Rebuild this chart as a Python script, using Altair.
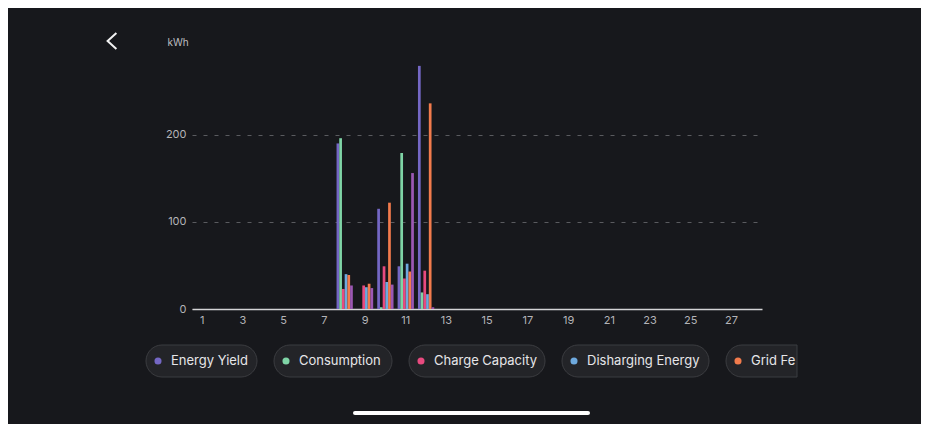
import altair as alt
import pandas as pd

# ---------------- data ----------------
days = list(range(1, 29))
series = ["Energy Yield", "Consumption", "Charge Capacity",
          "Disharging Energy", "Grid Feed-in", "Purchasing Energy"]
colors = ["#7467c4", "#7fd4a6", "#e84a7f", "#6ea9de", "#f27b4c", "#9c58b3"]

active_days = [8, 9, 10, 11, 12]
energy_yield = [190, 0, 115, 49, 279]
consumption = [196, 0, 2, 179, 19]
charge_capacity = [23, 27, 49, 35, 44]
discharging_energy = [40, 25, 31, 52, 17]
grid_feed_in = [39, 29, 122, 43, 236]
purchasing_energy = [27, 24, 28, 156, 2]

y_ticks = [0, 100, 200]
x_ticks = list(range(1, 28, 2))

values_by_series = dict(zip(series, [energy_yield, consumption, charge_capacity,
                                     discharging_energy, grid_feed_in, purchasing_energy]))
rows = []
for d in days:
    for s in series:
        v = 0
        if d in active_days:
            v = values_by_series[s][active_days.index(d)]
        rows.append({"day": d, "series": s, "value": v})
df = pd.DataFrame(rows)

# ---------------- layout ----------------
W, H = 570, 244
PAD = {"left": 184, "top": 57, "right": 159, "bottom": 115}
BG = "#17181c"
FONT = "Inter"

# legend chips (pixel layout relative to plot origin)
chip_w = [111, 118, 136, 147, 120]
chip_gap = 17
chip_start = -46
clip_right = 605
leg_rows = []
x = chip_start
for i, s in enumerate(series[:5]):
    x0 = x
    x1 = min(x + chip_w[i], clip_right)
    leg_rows.append({"series": s, "x0": x0, "x1": x1, "cx": x0 + 12, "tx": x0 + 25,
                     "y0": 280, "y1": 312, "yc": 296, "last": i == 4,
                     "limit": clip_right - (x0 + 25)})
    x = x0 + chip_w[i] + chip_gap
leg = pd.DataFrame(leg_rows)

color_enc = alt.Color("series:N", scale=alt.Scale(domain=series, range=colors), legend=None)

bars = alt.Chart(df).mark_bar(cornerRadius=0).encode(
    x=alt.X("day:O", scale=alt.Scale(paddingInner=0.2, paddingOuter=0.1),
            axis=alt.Axis(values=x_ticks, labelAngle=0, title=None, ticks=False, grid=False,
                          domainColor="#d4d4d6", domainWidth=1.5,
                          labelColor="#b4b4b8", labelFontSize=11, labelPadding=5,
                          labelFont=FONT)),
    xOffset=alt.XOffset("series:N", sort=series, scale=alt.Scale(paddingInner=0, paddingOuter=0)),
    y=alt.Y("value:Q", scale=alt.Scale(domain=[0, 280], nice=False),
            axis=alt.Axis(values=y_ticks, title="kWh", titleAngle=0, titleAlign="left",
                          titleBaseline="alphabetic", titleX=-25, titleY=-20,
                          titleColor="#bdbdc0", titleFontSize=10, titleFontWeight="normal",
                          titleFont=FONT,
                          domain=False, ticks=False, grid=True, gridDash=[4, 7],
                          gridColor="#5a5b5f", gridWidth=1,
                          labelColor="#b4b4b8", labelFontSize=11, labelPadding=6,
                          labelFont=FONT)),
    color=color_enc,
)

lx = lambda f: alt.X(f"{f}:Q", scale=None, axis=None)
ly = lambda f: alt.Y(f"{f}:Q", scale=None, axis=None)

chips = alt.Chart(leg).transform_filter("!datum.last").mark_rect(
    cornerRadius=16, fill="#232428", stroke="#3b3c40", strokeWidth=1
).encode(x=lx("x0"), x2="x1", y=ly("y0"), y2="y1")

last_chip = alt.Chart(leg).transform_filter("datum.last").mark_rect(
    cornerRadiusTopLeft=16, cornerRadiusBottomLeft=16,
    fill="#232428", stroke="#3b3c40", strokeWidth=1
).encode(x=lx("x0"), x2="x1", y=ly("y0"), y2="y1")

dots = alt.Chart(leg).mark_circle(size=50, opacity=1).encode(
    x=lx("cx"), y=ly("yc"), color=color_enc)

texts = alt.Chart(leg).transform_filter("!datum.last").mark_text(
    align="left", baseline="middle", fontSize=13, color="#e6e6e8", font=FONT
).encode(x=lx("tx"), y=ly("yc"), text="series:N")

last_text = alt.Chart(leg).transform_filter("datum.last").mark_text(
    align="left", baseline="middle", fontSize=13, color="#e6e6e8", font=FONT,
    limit=45, ellipsis="\u200b"
).encode(x=lx("tx"), y=ly("yc"), text="series:N")

one = pd.DataFrame({"k": [0]})
chevron = alt.Chart(one).mark_point(
    shape="M0.55,-1L-0.55,0L0.55,1", filled=False, stroke="#f2f2f2", strokeWidth=2,
    size=256, opacity=1
).encode(x=alt.value(-80), y=alt.value(-24))

home = alt.Chart(one).mark_rule(stroke="#ffffff", strokeWidth=4, strokeCap="round").encode(
    x=alt.value(163), x2=alt.value(396), y=alt.value(348))

chart = alt.layer(bars, chips, last_chip, dots, texts, last_text, chevron, home).resolve_scale(
    x="independent", y="independent"
).properties(
    width=W, height=H, background=BG, padding=PAD,
    autosize=alt.AutoSizeParams(type="none"),
).configure_view(stroke=None)

chart.save("out.html", embed_options={"renderer": "svg", "actions": False})
